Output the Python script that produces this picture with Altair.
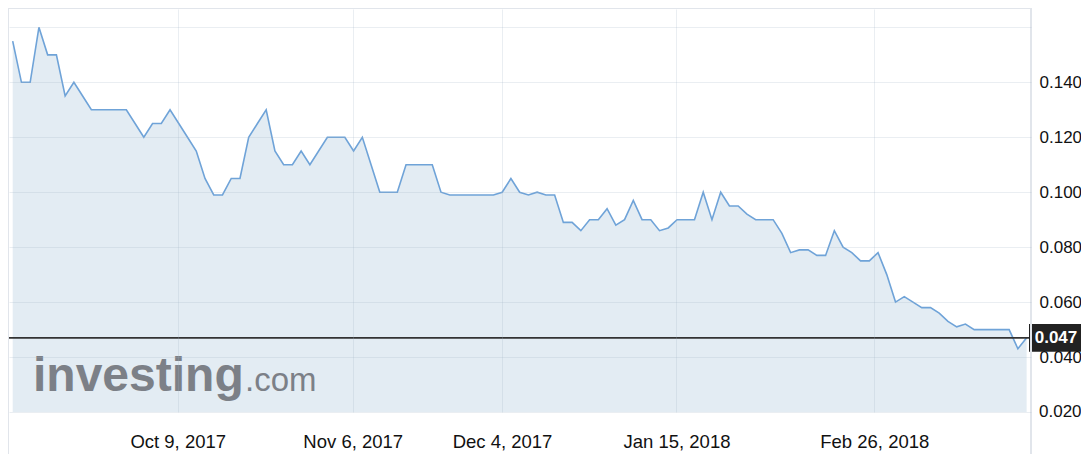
import altair as alt
import pandas as pd

# ---- data (one value per trading session) ----
prices = [
    0.155, 0.14, 0.14, 0.16, 0.15, 0.15, 0.135, 0.14, 0.135, 0.13,
    0.13, 0.13, 0.13, 0.13, 0.125, 0.12, 0.125, 0.125, 0.13, 0.125,
    0.12, 0.115, 0.105, 0.099, 0.099, 0.105, 0.105, 0.12, 0.125, 0.13,
    0.115, 0.11, 0.11, 0.115, 0.11, 0.115, 0.12, 0.12, 0.12, 0.115,
    0.12, 0.11, 0.10, 0.10, 0.10, 0.11, 0.11, 0.11, 0.11, 0.10,
    0.099, 0.099, 0.099, 0.099, 0.099, 0.099, 0.10, 0.105, 0.10, 0.099,
    0.10, 0.099, 0.099, 0.089, 0.089, 0.086, 0.09, 0.09, 0.094, 0.088,
    0.09, 0.097, 0.09, 0.09, 0.086, 0.087, 0.09, 0.09, 0.09, 0.10,
    0.09, 0.10, 0.095, 0.095, 0.092, 0.09, 0.09, 0.09, 0.085, 0.078,
    0.079, 0.079, 0.077, 0.077, 0.086, 0.08, 0.078, 0.075, 0.075, 0.078,
    0.07, 0.06, 0.062, 0.06, 0.058, 0.058, 0.056, 0.053, 0.051, 0.052,
    0.05, 0.05, 0.05, 0.05, 0.05, 0.043, 0.047,
]
session = list(range(len(prices)))

x_tick_pos = [18.88, 38.9, 55.98, 75.94, 98.57]
x_tick_labels = ["Oct 9, 2017", "Nov 6, 2017", "Dec 4, 2017", "Jan 15, 2018", "Feb 26, 2018"]
y_ticks = [0.02, 0.04, 0.06, 0.08, 0.10, 0.12, 0.14, 0.16]
y_floor = 0.02
last_price = [0.047]

W, H = 1022, 403
FONT = "Liberation Sans"

df = pd.DataFrame({"i": session, "v": prices})
last_df = pd.DataFrame({"v": last_price})
floor_df = pd.DataFrame({"v": [y_floor]})
one = pd.DataFrame({"k": [0]})

parts = []
for k in range(len(x_tick_pos) - 1):
    mid = (x_tick_pos[k] + x_tick_pos[k + 1]) / 2
    parts.append(f"datum.value < {mid} ? '{x_tick_labels[k]}' : ")
x_expr = "".join(parts) + f"'{x_tick_labels[-1]}'"

x_scale = alt.Scale(domain=[-0.423, 116.5], nice=False, zero=False)
y_scale = alt.Scale(domain=[y_floor, 0.16668], nice=False, zero=False)

GRID = dict(gridColor="#9fb0c2", gridOpacity=0.22, gridWidth=1)

x_axis = alt.Axis(
    values=x_tick_pos, labelExpr=x_expr, title=None, grid=True, **GRID,
    ticks=False, tickSize=0, domain=False, labelPadding=29,
    labelBaseline="middle", labelFontSize=18.5, labelFont=FONT,
    labelColor="#111111", labelAngle=0, labelOverlap=False, labelFlush=False,
    zindex=1,
)
# the bottom (0.020) label is drawn by its own text layer below
y_axis = alt.Axis(
    orient="right", values=y_ticks,
    labelExpr="(datum.value > 0.15 || datum.value < 0.03) ? '' : format(datum.value, '.3f')",
    title=None, grid=True, **GRID,
    ticks=False, tickSize=0, domain=False, labelPadding=8,
    labelFontSize=17, labelFont=FONT, labelColor="#111111", labelOverlap=False,
    labelFlush=False, labelBaseline="middle", zindex=1,
)

X = alt.X("i:Q", scale=x_scale, axis=x_axis)
Y = alt.Y("v:Q", scale=y_scale, axis=y_axis)

area = alt.Chart(df).mark_area(color="#e3ecf3", opacity=1, clip=True).encode(
    x=X, y=Y, y2=alt.datum(y_floor))

wm1 = alt.Chart(one).mark_text(
    text="investing", font=FONT, fontSize=48, fontWeight="bold",
    color="#7c8087", align="left", baseline="alphabetic",
).encode(x=alt.value(24), y=alt.value(381.7))
wm2 = alt.Chart(one).mark_text(
    text=".com", font=FONT, fontSize=33, fontWeight="normal",
    color="#7c8087", align="left", baseline="alphabetic",
).encode(x=alt.value(236), y=alt.value(381.7))

line = alt.Chart(df).mark_line(color="#6fa3d8", strokeWidth=1.6).encode(x=X, y=Y)

floor_label = alt.Chart(floor_df).mark_text(
    font=FONT, fontSize=17, color="#111111", align="left", baseline="middle",
).encode(x=alt.value(W + 8), y=Y, text=alt.Text("v:Q", format=".3f"))

price_rule = alt.Chart(last_df).mark_rule(color="#333333", strokeWidth=1.7).encode(y=Y)

box_shape = "M-1,-0.513L1,-0.513L1,0.513L-1,0.513Z"
price_box = alt.Chart(last_df).mark_point(
    shape=box_shape, size=2916, filled=True, color="#222222", opacity=1,
).encode(x=alt.value(1047), y=Y)
price_text = alt.Chart(last_df).mark_text(
    font=FONT, fontSize=17, fontWeight="bold", color="white",
    align="center", baseline="middle",
).encode(x=alt.value(1047), y=Y, text=alt.Text("v:Q", format=".3f"))

frame_col = "#e1e5eb"
frame_left = alt.Chart(one).mark_rule(color=frame_col, strokeWidth=2).encode(
    x=alt.value(-1), y=alt.value(-1), y2=alt.value(447))
frame_right = alt.Chart(one).mark_rule(color=frame_col, strokeWidth=2).encode(
    x=alt.value(W), y=alt.value(-1), y2=alt.value(447))
frame_top = alt.Chart(one).mark_rule(color=frame_col, strokeWidth=2).encode(
    x=alt.value(-1), x2=alt.value(W), y=alt.value(-1))

chart = alt.layer(
    area, wm1, wm2, line, floor_label, price_rule, price_box, price_text,
    frame_left, frame_right, frame_top,
).properties(
    width=W, height=H, background="white",
    autosize=alt.AutoSizeParams(type="none"),
    padding={"left": 1, "top": 1, "right": 50, "bottom": 44},
).configure_view(stroke=None)

chart.save("out.html", embed_options={"renderer": "svg", "actions": False})
